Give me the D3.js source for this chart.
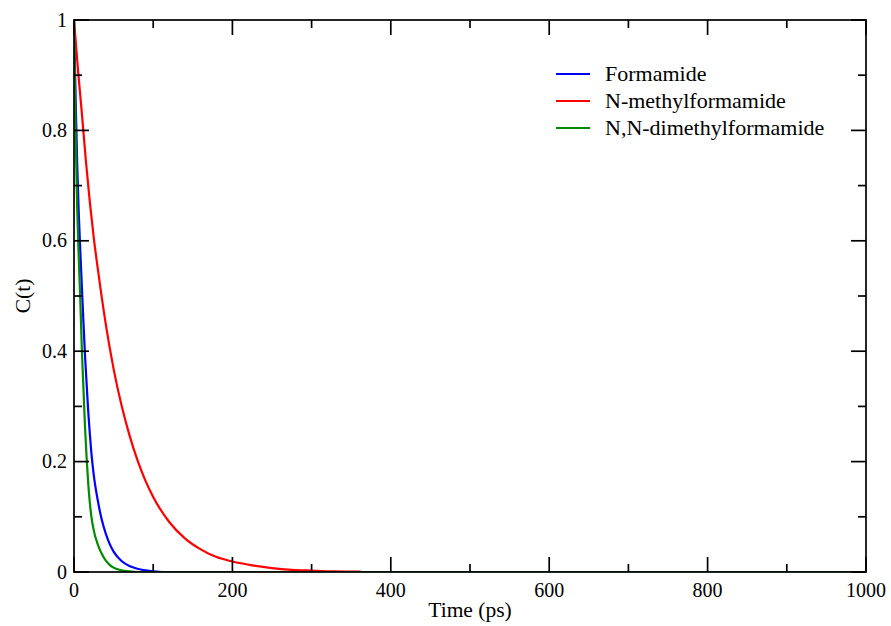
<!DOCTYPE html>
<html><head><meta charset="utf-8">
<script src="https://cdn.jsdelivr.net/npm/d3@7"></script>
<style>body{margin:0;background:#fff}svg{display:block}</style>
</head><body><svg id="c" width="891" height="626" font-family="Liberation Serif"></svg>
<script>
const seriesNames = ["Formamide", "N-methylformamide", "N,N-dimethylformamide"];
const seriesColors = ["#0000ff", "#ff0000", "#008b00"];
const formamideT = [0,1,2,3,4,6,8,10,12,14,16,18,20,22,25,30,35,40,45,50,60,70,80,90,100,111];
const formamideC = [1,0.93,0.86,0.8,0.74,0.65,0.58,0.515,0.45,0.39,0.34,0.29,0.25,0.215,0.175,0.13,0.095,0.07,0.051,0.037,0.02,0.011,0.006,0.003,0.001,0];
const nmfT = [0,5,10,15,20,25,30,40,50,60,70,80,90,100,120,140,160,180,200,225,250,275,300,330,362];
const nmfC = [1,0.91,0.83,0.745,0.67,0.605,0.55,0.45,0.368,0.302,0.248,0.203,0.166,0.136,0.091,0.061,0.041,0.027,0.019,0.012,0.007,0.004,0.0025,0.001,0.0005];
const dmfT = [0,1,2,4,6,8,10,12,14,16,18,20,22,25,30,35,40,45,50,60,70,80,200,400,600,800,1000];
const dmfC = [1,0.9,0.8,0.66,0.57,0.49,0.4,0.33,0.26,0.205,0.16,0.125,0.1,0.075,0.05,0.033,0.021,0.013,0.008,0.003,0.001,0,0,0,0,0,0];
const xTicks = [0,200,400,600,800,1000];
const yTicks = [0,0.2,0.4,0.6,0.8,1];
const xLabel = "Time (ps)", yLabel = "C(t)";

const svg = d3.select("#c");
const L=74, R=866, T=20, B=572;
const x = d3.scaleLinear().domain([0,1000]).range([L,R]);
const y = d3.scaleLinear().domain([0,1]).range([B,T]);

const series = [
  {t:formamideT, c:formamideC},
  {t:nmfT, c:nmfC},
  {t:dmfT, c:dmfC}
];
const line = d3.line().x(d=>x(d[0])).y(d=>y(d[1])).curve(d3.curveMonotoneX);
svg.append("clipPath").attr("id","pc").append("rect").attr("x",L).attr("y",T-2).attr("width",R-L).attr("height",B-T+2);
const g = svg.append("g").attr("clip-path","url(#pc)");
series.forEach((s,i)=>{
  const pts = s.t.map((t,j)=>[t,s.c[j]]);
  g.append("path").attr("d",line(pts)).attr("fill","none").attr("stroke",seriesColors[i]).attr("stroke-width",2.2);
});

svg.append("rect").attr("x",L).attr("y",T).attr("width",R-L).attr("height",B-T).attr("fill","none").attr("stroke","#000").attr("stroke-width",1.7);

const minorX = d3.range(100,1000,200);
const minorY = [0.1,0.3,0.5,0.7,0.9];
const tk = svg.append("g").attr("stroke","#000").attr("stroke-width",1.7);
xTicks.forEach(v=>{ tk.append("line").attr("x1",x(v)).attr("x2",x(v)).attr("y1",B).attr("y2",B-15);
  tk.append("line").attr("x1",x(v)).attr("x2",x(v)).attr("y1",T).attr("y2",T+15);});
minorX.forEach(v=>{ tk.append("line").attr("x1",x(v)).attr("x2",x(v)).attr("y1",B).attr("y2",B-8);
  tk.append("line").attr("x1",x(v)).attr("x2",x(v)).attr("y1",T).attr("y2",T+8);});
yTicks.forEach(v=>{ tk.append("line").attr("x1",L).attr("x2",L+15).attr("y1",y(v)).attr("y2",y(v));
  tk.append("line").attr("x1",R).attr("x2",R-15).attr("y1",y(v)).attr("y2",y(v));});
minorY.forEach(v=>{ tk.append("line").attr("x1",L).attr("x2",L+8).attr("y1",y(v)).attr("y2",y(v));
  tk.append("line").attr("x1",R).attr("x2",R-8).attr("y1",y(v)).attr("y2",y(v));});

xTicks.forEach(v=>svg.append("text").attr("x",x(v)).attr("y",597).attr("text-anchor","middle").attr("font-size",20).text(v));
yTicks.forEach(v=>svg.append("text").attr("x",67).attr("y",y(v)+6.5).attr("text-anchor","end").attr("font-size",20).text(v));
svg.append("text").attr("x",(L+R)/2).attr("y",617).attr("text-anchor","middle").attr("font-size",21.5).text(xLabel);
svg.append("text").attr("transform","translate(30,296) rotate(-90)").attr("text-anchor","middle").attr("font-size",21.5).text(yLabel);

const legY = [74,101,128];
seriesNames.forEach((n,i)=>{
  svg.append("line").attr("x1",556).attr("x2",590).attr("y1",legY[i]).attr("y2",legY[i]).attr("stroke",seriesColors[i]).attr("stroke-width",2.2);
  svg.append("text").attr("x",605).attr("y",legY[i]+7).attr("font-size",22).text(n);
});
</script></body></html>
